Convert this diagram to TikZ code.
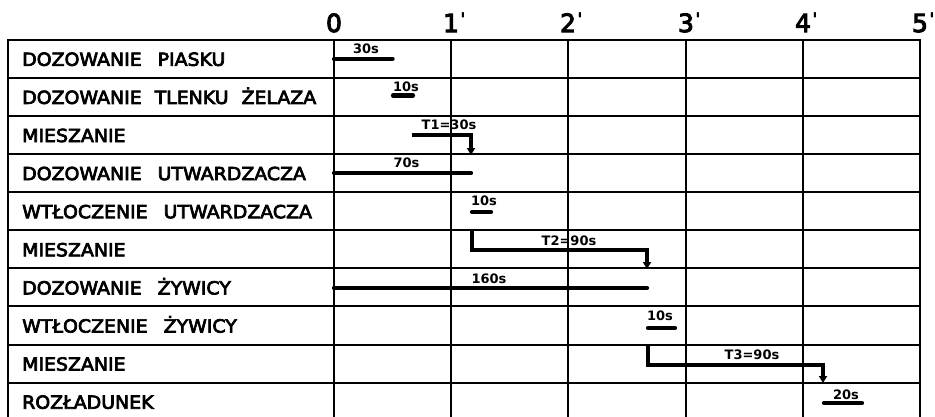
\documentclass[tikz,border=0pt]{standalone}
\usepackage{fontspec}
\setmainfont{DejaVu Sans}
\newfontfamily\lblfont[FakeStretch=1.05,FakeBold=4]{DejaVu Sans}
\newfontfamily\tickfont[FakeBold=4]{DejaVu Sans}
\newfontfamily\durfont{DejaVu Sans Bold}
\newcommand\lblsetup{\lblfont\fontsize{18}{18}\selectfont\spaceskip=16pt\relax}
\newcommand\tickprime{\rlap{\kern1.2pt\raisebox{5.5pt}{\durfont\fontsize{19}{19}\selectfont\symbol{"27}}}}
\usetikzlibrary{arrows.meta}
\begin{document}
\begin{tikzpicture}[x=1pt,y=-1pt,
  gridline/.style={line width=2.5pt, line cap=rect},
  bar/.style={line width=4.2pt, line cap=round},
  flow/.style={line width=4pt, line join=miter, -{Triangle[length=7pt,width=8pt]}},
  rowlabel/.style={anchor=base west, inner sep=0pt, font=\lblsetup},
  dur/.style={anchor=base, inner sep=0pt, font=\durfont\fontsize{13}{13}\selectfont},
  tick/.style={anchor=base, inner sep=0pt, font=\tickfont\fontsize{25}{25}\selectfont}]
\useasboundingbox (0,0) rectangle (935,416);
\clip (0,0) rectangle (935,416);
\fill[white] (0,0) rectangle (935,416);
% grid
\foreach \yy in {40,78,116,154,192,230,268,306,345,383,421} {
  \draw[gridline] (8,\yy) -- (920,\yy);
}
\draw[gridline] (8,40) -- (8,430);
\foreach \xx in {334,451,568,686,803,920} {
  \draw[gridline] (\xx,40) -- (\xx,430);
}
% time axis labels
\node[tick] (m0) at (334,32) {0};
\node[tick] (m1) at (451,32) {1\tickprime};
\node[tick] (m2) at (568,32) {2\tickprime};
\node[tick] (m3) at (686,32) {3\tickprime};
\node[tick] (m4) at (803,32) {4\tickprime};
\node[tick] (m5) at (920,32) {5\tickprime};
% row labels
\node[rowlabel] (r1) at (22,65.8) {DOZOWANIE PIASKU};
\node[rowlabel] (r2) at (22,103.9) {\spaceskip=13pt\relax DOZOWANIE TLENKU ŻELAZA};
\node[rowlabel] (r3) at (22,142.0) {MIESZANIE};
\node[rowlabel] (r4) at (22,180.1) {DOZOWANIE UTWARDZACZA};
\node[rowlabel] (r5) at (22,218.2) {WTŁOCZENIE UTWARDZACZA};
\node[rowlabel] (r6) at (22,256.3) {MIESZANIE};
\node[rowlabel] (r7) at (22,294.4) {DOZOWANIE ŻYWICY};
\node[rowlabel] (r8) at (22,332.5) {WTŁOCZENIE ŻYWICY};
\node[rowlabel] (r9) at (22,370.6) {MIESZANIE};
\node[rowlabel] (r10) at (22,408.7) {ROZŁADUNEK};
% bar coordinates
\coordinate (a1) at (334,58.8);   \coordinate (b1) at (392.6,58.8);
\coordinate (a2) at (393,95.5);   \coordinate (b2) at (413,95.5);
\coordinate (a3) at (412,135);    \coordinate (c3) at (471,135);  \coordinate (b3) at (471,155);
\coordinate (a4) at (334,173);    \coordinate (b4) at (471,173);
\coordinate (a5) at (472,212);    \coordinate (b5) at (491,212);
\coordinate (a6) at (472,230);    \coordinate (c6) at (472,250);  \coordinate (d6) at (647,250); \coordinate (b6) at (647,269);
\coordinate (a7) at (334,288);    \coordinate (b7) at (647,288);
\coordinate (a8) at (648,328);    \coordinate (b8) at (675,328);
\coordinate (a9) at (648,344);    \coordinate (c9) at (648,365);  \coordinate (d9) at (823,365); \coordinate (b9) at (823,383);
\coordinate (a10) at (824,403);   \coordinate (b10) at (862,403);
% bars
\draw[bar] (a1) -- (b1);
\draw[bar] (a2) -- (b2);
\draw[flow] (a3) -- (c3) -- (b3);
\draw[bar] (a4) -- (b4);
\draw[bar] (a5) -- (b5);
\draw[flow] (a6) -- (c6) -- (d6) -- (b6);
\draw[bar] (a7) -- (b7);
\draw[bar] (a8) -- (b8);
\draw[flow] (a9) -- (c9) -- (d9) -- (b9);
\draw[bar] (a10) -- (b10);
% durations
\node[dur] (d1) at (366,53) {30s};
\node[dur] (d2) at (406,91) {10s};
\node[dur] (d3) at (449,129) {T1=30s};
\node[dur] (d4) at (406.5,167) {70s};
\node[dur] (d5) at (484,205) {10s};
\node[dur] (d6l) at (569,245) {T2=90s};
\node[dur] (d7) at (489,283) {160s};
\node[dur] (d8) at (660,320) {10s};
\node[dur] (d9l) at (752,359) {T3=90s};
\node[dur] (d10) at (846,399) {20s};
\end{tikzpicture}
\end{document}
